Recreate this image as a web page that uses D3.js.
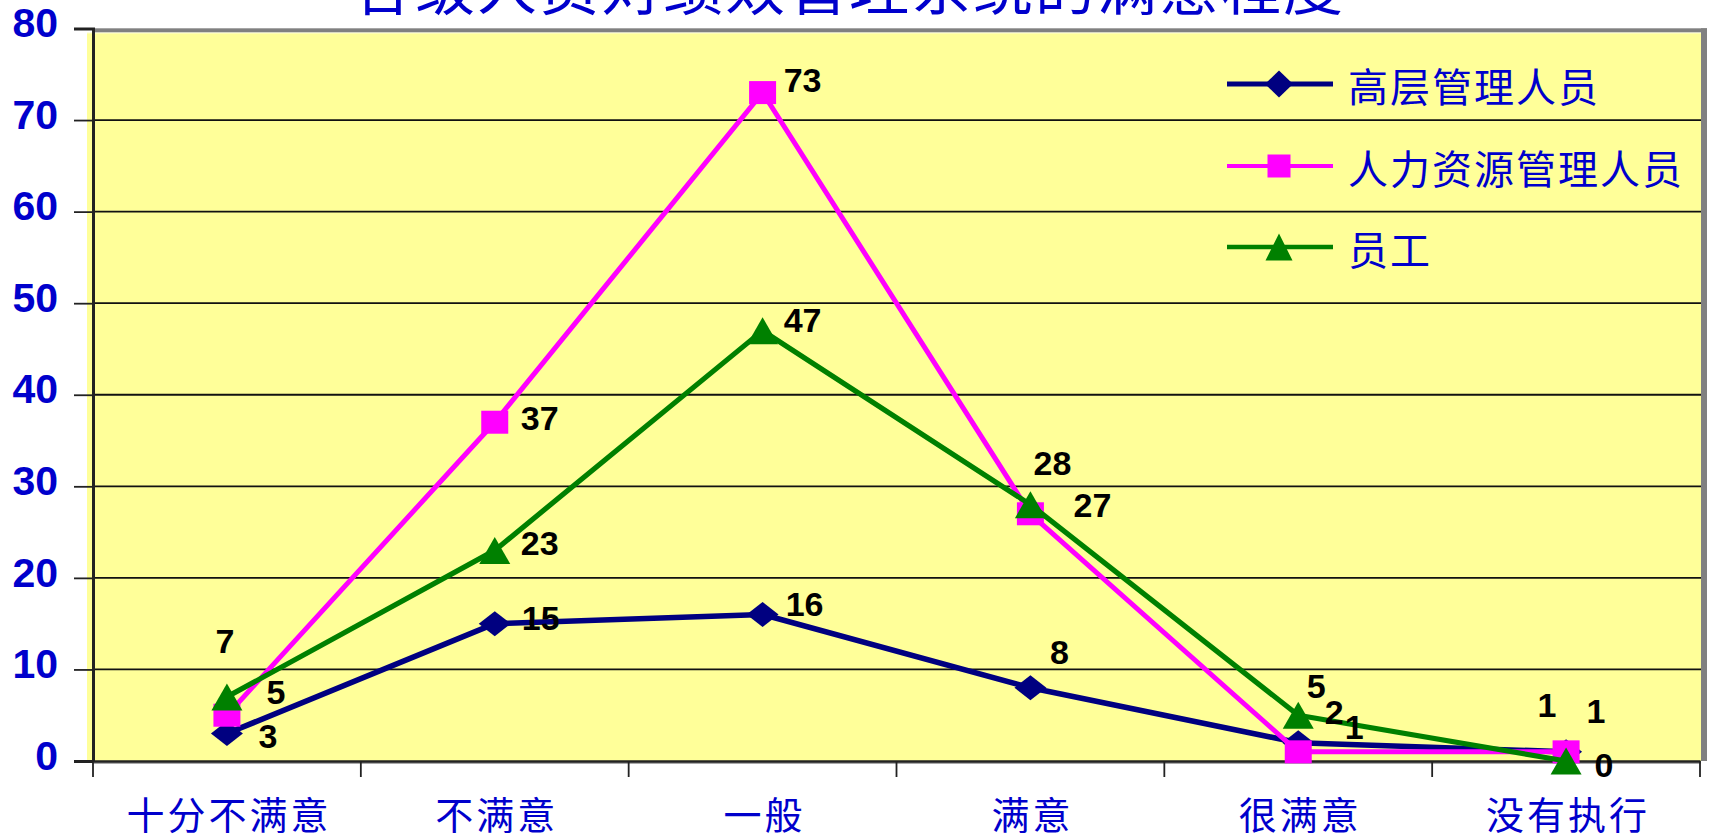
<!DOCTYPE html>
<html><head><meta charset="utf-8">
<script src="https://cdn.jsdelivr.net/npm/d3@7"></script>
<style>body{margin:0;background:#fff;} svg{display:block;}</style>
</head><body>
<svg id="chart" width="1712" height="840"></svg>
<script>
// ---- data ----
const title = "各级人员对绩效管理系统的满意程度";
const categories = ["十分不满意", "不满意", "一般", "满意", "很满意", "没有执行"];
const seriesNames = ["高层管理人员", "人力资源管理人员", "员工"];
const seniorMgmt = [3, 15, 16, 8, 2, 1];
const hrMgmt = [5, 37, 73, 27, 1, 1];
const employees = [7, 23, 47, 28, 5, 0];
const yTicks = [0, 10, 20, 30, 40, 50, 60, 70, 80];

// ---- styles (label nudges in px, as placed in the original) ----
const seriesValues = [seniorMgmt, hrMgmt, employees];
const colors = ["#000080", "#FF00FF", "#008000"];
const markerTypes = ["diamond", "square", "triangle"];
const labelNudge = [
  [[41,2],[46,-6],[42,-11],[29,-36],[36,-31],[30,-41]],
  [[49,-23],[45,-4],[40,-13],[62,-9],[56,-25],[-19,-47]],
  [[-2,-56],[45,-8],[40,-11],[22,-42],[18,-29],[38,4]]
];

const svg = d3.select("#chart");
const L = 93, R = 1700, T = 28.5, B = 761;
const x = d3.scaleBand().domain(categories).range([L, R]);
const y = d3.scaleLinear().domain([0, 80]).range([B, T]);

// plot background and frame
svg.append("rect").attr("x", 87).attr("y", 32).attr("width", 1701 - 87).attr("height", B - 32).attr("fill", "#FFFF99");
svg.append("rect").attr("x", 87).attr("y", 32.3).attr("width", 1614).attr("height", 1).attr("fill", "#fff");
svg.append("rect").attr("x", 93).attr("y", 28.3).attr("width", 1614).attr("height", 4).attr("fill", "#808080");
svg.append("rect").attr("x", 1701).attr("y", 28.3).attr("width", 6).attr("height", B - 28.3).attr("fill", "#808080");

// gridlines
svg.append("g").selectAll("line").data(yTicks.filter(d => d > 0 && d < 80)).join("line")
  .attr("x1", L).attr("x2", 1701).attr("y1", d => y(d)).attr("y2", d => y(d))
  .attr("stroke", "#111").attr("stroke-width", 1.8);

// y axis
const yAxis = d3.axisLeft(y).tickValues(yTicks).tickSize(19).tickPadding(16).tickFormat(d3.format("d"));
const gy = svg.append("g").attr("transform", `translate(${L},0)`).call(yAxis);
gy.select(".domain").attr("stroke", "#222").attr("stroke-width", 3);
gy.selectAll(".tick line").attr("stroke", "#222").attr("stroke-width", 1.8);
gy.selectAll(".tick text").attr("fill", "#0000CC").attr("font-family", "Liberation Sans, Arial, sans-serif")
  .attr("font-weight", "bold").attr("font-size", 41).attr("dy", "0.32em").attr("transform", "translate(0,-5)");

// x axis
svg.append("rect").attr("x", L).attr("y", B + 1).attr("width", 1608).attr("height", 2).attr("fill", "#aaa");
const xAxis = d3.axisBottom(x).tickSize(0).tickFormat("");
const gx = svg.append("g").attr("transform", `translate(0,${B})`).call(xAxis);
gx.select(".domain").attr("stroke", "#222").attr("stroke-width", 2.5);
const bounds = categories.map(c => x(c)).concat([x(categories[categories.length - 1]) + x.bandwidth()]);
svg.append("g").selectAll("line").data(bounds).join("line")
  .attr("x1", d => d).attr("x2", d => d).attr("y1", B).attr("y2", B + 16)
  .attr("stroke", "#222").attr("stroke-width", 1.8);
svg.append("g").selectAll("text").data(categories).join("text")
  .attr("x", d => x(d) + x.bandwidth() / 2 + 2).attr("y", 812)
  .attr("text-anchor", "middle").attr("dominant-baseline", "central")
  .attr("font-family", "Noto Sans CJK SC").attr("font-size", 38).attr("letter-spacing", 3)
  .attr("fill", "#0000CC").text(d => d);

// title
svg.append("text").attr("x", 849).attr("y", 10).attr("text-anchor", "middle")
  .attr("font-family", "Noto Sans CJK SC").attr("font-size", 60).attr("letter-spacing", 2)
  .attr("fill", "#0000CC").text(title);

// markers
function markerPath(type, w, h) {
  const a = w / 2, b = h / 2;
  if (type === "diamond") return `M0,${-b}L${a},0L0,${b}L${-a},0Z`;
  if (type === "square") return `M${-a},${-b}H${a}V${b}H${-a}Z`;
  return `M0,${-b}L${a},${b}L${-a},${b}Z`;
}
const plotSizes = { diamond: [32, 25], square: [27, 23], triangle: [31, 27] };
const legendSizes = { diamond: [28, 27], square: [23, 23], triangle: [27, 27] };
const lineWidths = [5.6, 5, 5.2];

const cx = c => x(c) + x.bandwidth() / 2;
const line = d3.line().x((d, i) => cx(categories[i])).y(d => y(d));

seriesValues.forEach((vals, s) => {
  const g = svg.append("g");
  g.append("path").datum(vals).attr("d", line).attr("fill", "none")
    .attr("stroke", colors[s]).attr("stroke-width", lineWidths[s]).attr("stroke-linejoin", "round");
  const [w, h] = plotSizes[markerTypes[s]];
  g.selectAll("path.m").data(vals).join("path").attr("class", "m")
    .attr("transform", (d, i) => `translate(${cx(categories[i])},${y(d)})`)
    .attr("d", markerPath(markerTypes[s], w, h)).attr("fill", colors[s]);
});

// data labels
seriesValues.forEach((vals, s) => {
  svg.append("g").selectAll("text").data(vals).join("text")
    .attr("x", (d, i) => cx(categories[i]) + labelNudge[s][i][0])
    .attr("y", (d, i) => y(d) + labelNudge[s][i][1])
    .attr("text-anchor", "middle").attr("dy", "0.36em")
    .attr("font-family", "Liberation Sans, Arial, sans-serif").attr("font-weight", "bold")
    .attr("font-size", 34).attr("fill", "#000").text(d => d);
});

// legend
const legendRows = [84, 166, 247];
const lg = svg.append("g");
seriesNames.forEach((name, s) => {
  const ly = legendRows[s];
  lg.append("line").attr("x1", 1227).attr("x2", 1333).attr("y1", ly).attr("y2", ly)
    .attr("stroke", colors[s]).attr("stroke-width", [4.8, 4, 4.4][s]);
  const [w, h] = legendSizes[markerTypes[s]];
  lg.append("path").attr("transform", `translate(1279,${ly})`).attr("d", markerPath(markerTypes[s], w, h)).attr("fill", colors[s]);
  lg.append("text").attr("x", 1348).attr("y", ly + 1).attr("dominant-baseline", "central")
    .attr("font-family", "Noto Sans CJK SC").attr("font-size", 40).attr("letter-spacing", 2)
    .attr("fill", "#0000CC").text(name);
});
</script>
</body></html>
